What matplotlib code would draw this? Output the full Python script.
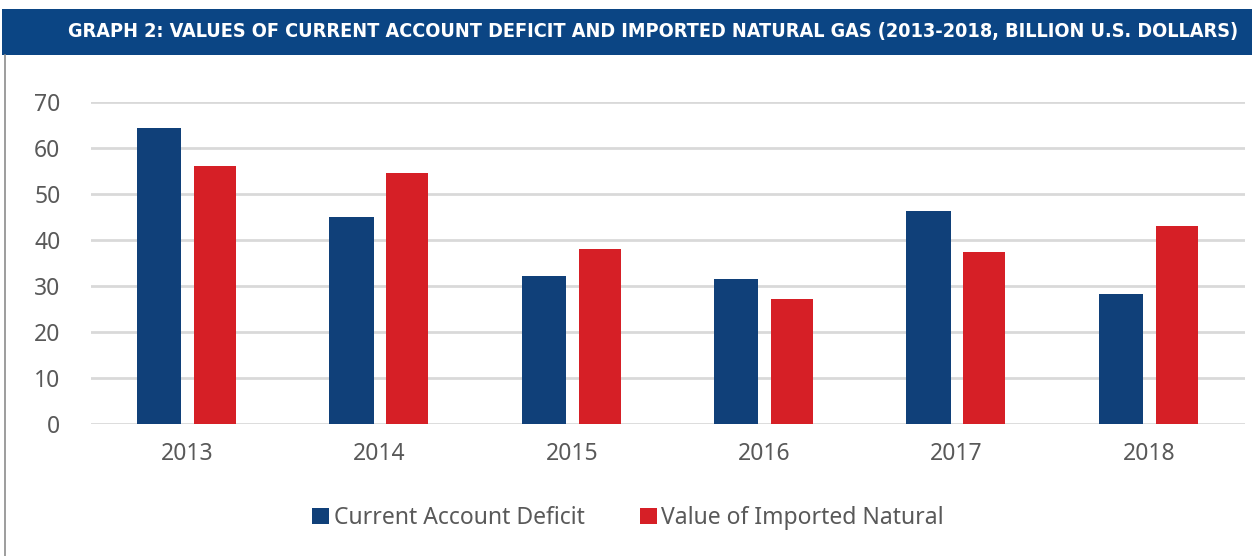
import matplotlib.pyplot as plt
import numpy as np
from matplotlib.patches import Rectangle
from matplotlib.lines import Line2D

years = ["2013", "2014", "2015", "2016", "2017", "2018"]
deficit = [64.3, 45.0, 32.2, 31.5, 46.3, 28.3]
gas_imports = [56.1, 54.6, 38.0, 27.2, 37.4, 43.0]
series_labels = ["Current Account Deficit", "Value of Imported Natural"]
title = "GRAPH 2: VALUES OF CURRENT ACCOUNT DEFICIT AND IMPORTED NATURAL GAS (2013-2018, BILLION U.S. DOLLARS)"

BLUE = "#104079"
RED = "#d61f26"
BANNER = "#0b4584"
GRAY_TXT = "#595959"

plt.rcParams["font.family"] = ["Noto Sans", "DejaVu Sans"]

fig = plt.figure(figsize=(12.52, 5.56), dpi=100)
W, H = 1252, 556

# title banner
fig.patches.append(Rectangle((2 / W, 1 - 55 / H), 1 - 2 / W, 46 / H, transform=fig.transFigure,
                             facecolor=BANNER, edgecolor="none", zorder=0))
fig.text(1238 / W, 1 - 32 / H, title, color="white", fontsize=14.2, fontweight="bold",
         fontstretch="condensed", family="DejaVu Sans", ha="right", va="center")
# left border
fig.lines.append(Line2D([5 / W, 5 / W], [0, 1 - 55 / H], transform=fig.transFigure,
                        color="#8c8c8c", lw=1.2))

ax = fig.add_axes([91 / W, 1 - 424 / H, (1245 - 91) / W, (424 - 102) / H])
x = np.arange(len(years))
bw = 0.23
ax.bar(x - 0.145, deficit, bw, color=BLUE, label=series_labels[0], zorder=3)
ax.bar(x + 0.145, gas_imports, bw * 0.95, color=RED, label=series_labels[1], zorder=3)

ax.set_xlim(-0.5, len(years) - 0.5)
ax.set_ylim(0, 70)
ax.set_yticks(range(0, 71, 10))
ax.set_xticks(x)
ax.set_xticklabels(years)
ax.grid(axis="y", color="#d9d9d9", lw=2, zorder=0)
ax.set_axisbelow(True)
for s in ax.spines.values():
    s.set_visible(False)
ax.tick_params(length=0, labelsize=16.5, labelcolor=GRAY_TXT)
ax.tick_params(axis="x", pad=13)
ax.tick_params(axis="y", pad=22)

fig.legend(loc="center", bbox_to_anchor=(628 / W, 1 - 518 / H), ncol=2, frameon=False,
           fontsize=16.5, labelcolor=GRAY_TXT, handlelength=0.75, handleheight=0.75,
           handletextpad=0.2, columnspacing=2.4)

fig.savefig("out.png", dpi=100)
